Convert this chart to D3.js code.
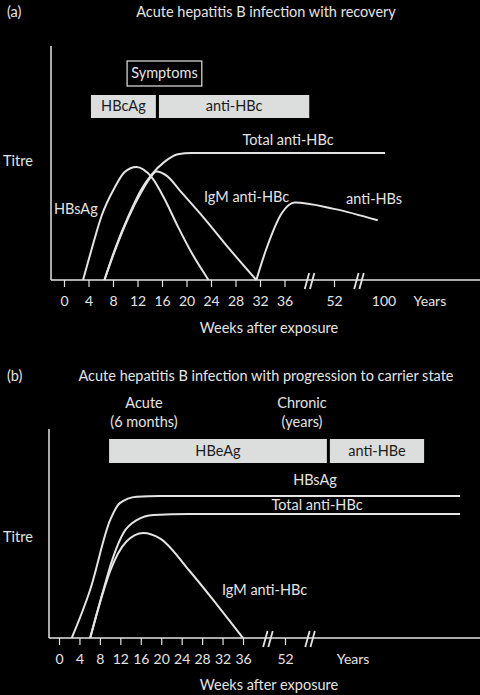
<!DOCTYPE html>
<html>
<head>
<meta charset="utf-8">
<script src="https://cdn.jsdelivr.net/npm/d3@7"></script>
<style>
body { margin: 0; background: #000; }
svg { display: block; font-family: Lato, "Open Sans", sans-serif; }
</style>
</head>
<body>
<div id="chart-area"></div>
<script>
// ---- data (weeks after exposure, titre 0-100) ----

// panel (a) acute infection with recovery
var ticksA = [0, 4, 8, 12, 16, 20, 24, 28, 32, 36, 52];
var hbsagA = [[3.1,0],[4.5,24],[6.1,50],[8.3,73],[9.9,85],[11.8,89],[14.3,81],[16.4,64],[18.6,42],[21,20],[23.6,0]];
var igmA = [[6.6,0],[8.3,23],[10.5,49],[12.6,69],[14,80],[15.1,85.5],[16.8,82],[19,70],[23,48],[27,24.5],[31.4,0]];
var totalA = [[6.6,0],[8.3,24],[10.5,50],[12.6,71],[14.3,83],[16.4,93],[18.6,99],[20.8,100],[101,100]];
var antiHbsA = [[31.4,0],[33,24],[35.6,53],[39.3,61],[52,56],[94,47]];
var symptomsA = [10.3, 22.5];
var bandsA = [["HBcAg", 4.4, 15], ["anti-HBc", 15.5, 44]];

// panel (b) progression to carrier state
var ticksB = [0, 4, 8, 12, 16, 20, 24, 28, 32, 36, 52];
var hbsagB = [[2.5,0],[6.1,34],[10,83],[11.9,95],[15.2,99.5],[19.8,100],[520,100]];
var totalB = [[6.1,0],[8.7,34],[10.6,57],[12.6,74],[15.2,83],[18.5,86.6],[25.6,87.3],[520,87.3]];
var igmB = [[6.1,0],[8.7,33],[10,47],[13.2,68],[16.5,74],[19.8,70],[25.6,47],[31,23],[36,0]];
var bandsB = [["HBeAg", 9.8, 164], ["anti-HBe", 172, 424]];

var panels = [
  {
    tag: "(a)", title: "Acute hepatitis B infection with recovery", titleY: 17,
    xDomain: [0, 36, 52, 100, 150], xRange: [64, 284.5, 334, 384, 435],
    axisX: 51, axisTop: 46, base: 280, top: 153,
    ticks: ticksA, breaks: [44.1, 76], yearsAt: 145, hundred: true,
    series: [hbsagA, igmA, totalA, antiHbsA],
    symptoms: symptomsA, symptomsY: [61, 86],
    bands: bandsA, bandY: [95, 118],
    labels: [
      ["Titre", 3, 166, "start"],
      ["HBsAg", 54, 214, "start"],
      ["IgM anti-HBc", 204, 202, "start"],
      ["anti-HBs", 346, 204, "start"],
      ["Total anti-HBc", 288, 145, "middle"]
    ],
    xLabelY: 333
  },
  {
    tag: "(b)", title: "Acute hepatitis B infection with progression to carrier state", titleY: 381,
    xDomain: [0, 36, 52, 520], xRange: [59, 243, 285, 460],
    axisX: 49, axisTop: 429, base: 638, top: 496,
    ticks: ticksB, breaks: [45.5, 119], yearsAt: 234, hundred: false,
    series: [hbsagB, totalB, igmB],
    bands: bandsB, bandY: [439, 463],
    labels: [
      ["Acute", 144, 408, "middle"],
      ["(6 months)", 144, 427, "middle"],
      ["Chronic", 302, 408, "middle"],
      ["(years)", 302, 427, "middle"],
      ["HBsAg", 315, 485, "middle"],
      ["Total anti-HBc", 317, 510, "middle"],
      ["Titre", 3, 542, "start"],
      ["IgM anti-HBc", 222, 595, "start"]
    ],
    xLabelY: 690
  }
];

var W = 480, H = 695;
var fg = "#e4e4e4";
var fs = "14.5px", tickFs = "14px";

var svg = d3.select("#chart-area").append("svg")
  .attr("width", W)
  .attr("height", H);

svg.append("rect").attr("width", W).attr("height", H).attr("fill", "#000");

panels.forEach(function(p) {
  var x = d3.scaleLinear().domain(p.xDomain).range(p.xRange);
  var y = d3.scaleLinear().domain([0, 100]).range([p.base, p.top]);
  var g = svg.append("g");

  g.append("text").attr("x", 7).attr("y", p.titleY)
    .attr("fill", fg).attr("font-size", fs).text(p.tag);
  g.append("text").attr("x", 266).attr("y", p.titleY)
    .attr("text-anchor", "middle")
    .attr("fill", fg).attr("font-size", fs).text(p.title);

  // axes
  g.append("line")
    .attr("x1", p.axisX).attr("x2", p.axisX)
    .attr("y1", p.axisTop).attr("y2", p.base)
    .attr("stroke", fg).attr("stroke-width", 1.5);
  g.append("line")
    .attr("x1", p.axisX).attr("x2", W)
    .attr("y1", p.base).attr("y2", p.base)
    .attr("stroke", fg).attr("stroke-width", 1.5);

  var xAxisCall = d3.axisBottom(x)
    .tickValues(p.ticks)
    .tickSize(7)
    .tickSizeOuter(0)
    .tickPadding(9)
    .tickFormat(d3.format("d"));
  var ax = g.append("g")
    .attr("transform", "translate(0," + p.base + ")")
    .call(xAxisCall);
  ax.select(".domain").remove();
  ax.selectAll("line").attr("stroke", fg).attr("stroke-width", 1.2);
  ax.selectAll("text").attr("fill", fg)
    .attr("font-size", tickFs)
    .attr("font-family", "Lato, 'Open Sans', sans-serif");

  // labels past the breaks
  if (p.hundred) {
    g.append("text").attr("x", x(100)).attr("y", p.base + 26)
      .attr("text-anchor", "middle").attr("fill", fg)
      .attr("font-size", tickFs).text("100");
  }
  g.append("text").attr("x", x(p.yearsAt)).attr("y", p.base + 26)
    .attr("text-anchor", "middle").attr("fill", fg)
    .attr("font-size", tickFs).text("Years");

  // axis breaks  //
  p.breaks.forEach(function(b) {
    var cx = x(b), cy = p.base + 1;
    [-2.6, 2.6].forEach(function(d) {
      g.append("line")
        .attr("x1", cx + d - 2.2).attr("y1", cy + 8)
        .attr("x2", cx + d + 2.2).attr("y2", cy - 8)
        .attr("stroke", fg).attr("stroke-width", 1.8);
    });
  });

  g.append("text").attr("x", 269).attr("y", p.xLabelY)
    .attr("text-anchor", "middle").attr("fill", fg)
    .attr("font-size", fs).text("Weeks after exposure");

  // symptom box and antigen/antibody bands
  if (p.symptoms) {
    g.append("rect")
      .attr("x", x(p.symptoms[0])).attr("y", p.symptomsY[0])
      .attr("width", x(p.symptoms[1]) - x(p.symptoms[0]))
      .attr("height", p.symptomsY[1] - p.symptomsY[0])
      .attr("fill", "none").attr("stroke", fg).attr("stroke-width", 1.2);
    g.append("text")
      .attr("x", (x(p.symptoms[0]) + x(p.symptoms[1])) / 2)
      .attr("y", p.symptomsY[1] - 8)
      .attr("text-anchor", "middle").attr("fill", fg)
      .attr("font-size", fs).text("Symptoms");
  }

  var bands = g.selectAll(".band").data(p.bands).enter().append("g");
  bands.append("rect")
    .attr("x", function(d) { return x(d[1]); })
    .attr("y", p.bandY[0])
    .attr("width", function(d) { return x(d[2]) - x(d[1]); })
    .attr("height", p.bandY[1] - p.bandY[0])
    .attr("fill", "#dcdedd");
  bands.append("text")
    .attr("x", function(d) { return (x(d[1]) + x(d[2])) / 2; })
    .attr("y", p.bandY[1] - 7)
    .attr("text-anchor", "middle")
    .attr("fill", "#1b1b1b")
    .attr("font-size", fs)
    .text(function(d) { return d[0]; });

  // curves
  var line = d3.line()
    .x(function(d) { return x(d[0]); })
    .y(function(d) { return y(d[1]); })
    .curve(d3.curveMonotoneX);

  g.selectAll(".curve").data(p.series).enter()
    .append("path")
    .attr("d", line)
    .attr("fill", "none")
    .attr("stroke", fg)
    .attr("stroke-width", 2);

  p.labels.forEach(function(l) {
    g.append("text").attr("x", l[1]).attr("y", l[2])
      .attr("text-anchor", l[3]).attr("fill", fg)
      .attr("font-size", fs).text(l[0]);
  });
});
</script>
</body>
</html>
